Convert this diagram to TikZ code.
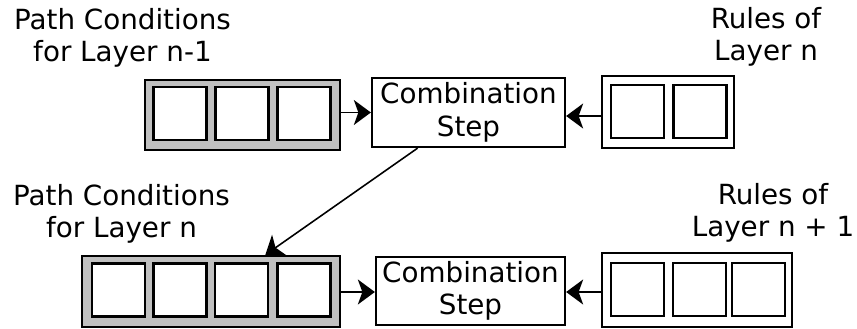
\documentclass[tikz,border=0pt]{standalone}
\usepackage{fontspec}
\setmainfont{DejaVu Sans}
\usetikzlibrary{arrows.meta}
\definecolor{slotgray}{RGB}{192,192,192}
\tikzset{
  slot/.style={draw, line width=1.3pt, fill=white, minimum width=1.06cm, minimum height=1.06cm, inner sep=0pt},
  holder/.style={draw, line width=1.3pt, inner sep=0pt},
  stepbox/.style={draw, line width=1.3pt, align=center, inner sep=0pt},
  heading/.style={align=center, inner sep=0pt},
  flow/.style={-{Stealth[length=0.34cm,width=0.5cm,inset=0.09cm]}, line width=0.9pt}
}
\begin{document}
\begin{tikzpicture}[x=1cm,y=1cm,every node/.style={font=\fontsize{15.8}{18.4}\selectfont}]
\useasboundingbox (0,0) rectangle (17.14,-6.58);

% labels
\node[heading] (pcoldtext) at (2.45,-0.76) {Path Conditions\\for Layer n-1};
\node[heading] (rulesonetext) at (15.32,-0.74) {Rules of\\Layer n};
\node[heading] (pcnewtext) at (2.43,-4.28) {Path Conditions\\for Layer n};
\node[heading] (rulestwotext) at (15.46,-4.26) {Rules of\\Layer n + 1};

% layer n-1
\node[holder, fill=slotgray, minimum width=3.9cm, minimum height=1.4cm] (pcold) at (4.85,-2.30) {};
\foreach \x [count=\i] in {3.60,4.84,6.08}
  \node[slot] (pcold\i) at (\x,-2.27) {};
\node[stepbox, minimum width=3.86cm, minimum height=1.38cm] (comb1) at (9.37,-2.25) {Combination\\Step};
\node[holder, minimum width=2.64cm, minimum height=1.44cm] (rules1) at (13.36,-2.24) {};
\foreach \x [count=\i] in {12.75,14.0}
  \node[slot] (rules1\i) at (\x,-2.23) {};

% layer n
\node[holder, fill=slotgray, minimum width=5.16cm, minimum height=1.42cm] (pcnew) at (4.22,-5.83) {};
\foreach \x [count=\i] in {2.37,3.60,4.83,6.08}
  \node[slot] (pcnew\i) at (\x,-5.80) {};
\node[stepbox, minimum width=3.78cm, minimum height=1.36cm] (comb2) at (9.41,-5.82) {Combination\\Step};
\node[holder, minimum width=3.8cm, minimum height=1.48cm] (rules2) at (13.94,-5.80) {};
\foreach \x [count=\i] in {12.75,13.99,15.17}
  \node[slot] (rules2\i) at (\x,-5.79) {};

\draw[flow] (pcold.east |- comb1.west) -- (comb1.west);
\draw[flow] (rules1.west |- 0,-2.32) -- (comb1.east |- 0,-2.32);
\draw[flow] (comb1.215) -- (pcnew.34);
\draw[flow] (pcnew.east |- 0,-5.84) -- (comb2.west |- 0,-5.84);
\draw[flow] (rules2.west |- 0,-5.84) -- (comb2.east |- 0,-5.84);
\end{tikzpicture}
\end{document}
